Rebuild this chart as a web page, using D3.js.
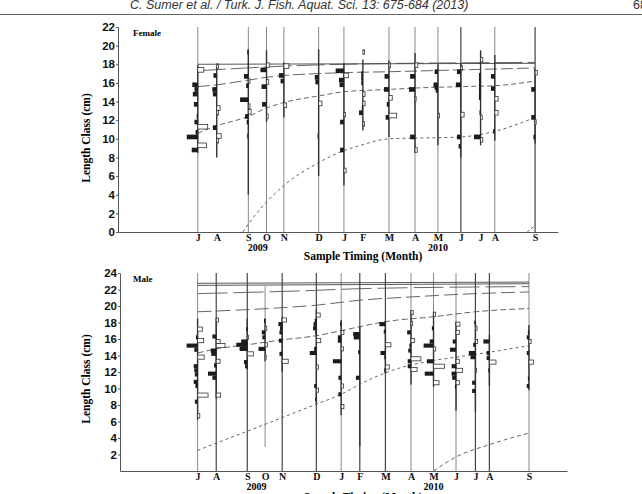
<!DOCTYPE html>
<html>
<head>
<meta charset="utf-8">
<script src="https://cdn.jsdelivr.net/npm/d3@7.9.0/dist/d3.min.js"></script>
<style>
  body { margin: 0; background: #fff; }
  svg { display: block; }
  .serif { font-family: "Liberation Serif", "Times New Roman", serif; font-weight: bold; }
</style>
</head>
<body>
<svg width="642" height="494"></svg>
<script>
// sample dates (one histogram per sample) and their month letters
const sampleDates = ['2009-07-10', '2009-08-03', '2009-09-12', '2009-10-05', '2009-10-27',
  '2009-12-10', '2010-01-11', '2010-02-04', '2010-03-09', '2010-04-11', '2010-05-10',
  '2010-06-08', '2010-07-03', '2010-07-21', '2010-09-10'];
const monthLabels = ['J', 'A', 'S', 'O', 'N', 'D', 'J', 'F', 'M', 'A', 'M', 'J', 'J', 'A', 'S'];
const yearLabels = [['2009-09-24', '2009'], ['2010-05-10', '2010']];

// restructured length frequencies: [length class (cm), score]; >0 black bar, <0 white bar
const femaleRanges = [[8.5, 17.9], [8.0, 17.9], [4.0, 19.6], [11.8, 19.5], [12.3, 18.2],
  [6.0, 19.6], [5.0, 18.1], [10.9, 18.5], [10.2, 18.4], [8.5, 19.2], [9.3, 18.0],
  [8.0, 18.1], [9.3, 19.5], [9.8, 19.0], [9.5, 17.5]];
const femalePeaks = [
  [[17.4, -0.55], [15.8, 0.5], [15.3, 0.3], [14.8, 0.45], [13.7, 0.35], [12.4, 0.1], [11.8, 0.3], [11.3, -0.9], [10.7, 0.2], [10.2, 1.0], [9.3, -0.8], [8.8, 0.55]],
  [[17.8, -0.15], [16.8, 0.3], [15.3, 0.4], [14.8, 0.35], [13.3, -0.3], [12.8, -0.15], [11.2, 0.35], [10.3, -0.4], [9.8, -0.15]],
  [[19.3, 0.1], [16.7, 0.4], [16.2, -0.15], [15.7, 0.2], [14.2, 0.75], [13.5, -0.15], [12.9, -0.25], [12.4, 0.3], [11.8, 0.15], [10.3, 0.1]],
  [[17.9, -0.25], [17.4, 0.55], [16.1, -0.2], [15.6, 0.45], [13.7, 0.4], [12.4, -0.15]],
  [[17.8, -0.45], [16.8, 0.45], [16.2, 0.3], [13.6, -0.25]],
  [[16.6, 0.35], [16.1, 0.3], [13.8, -0.3], [10.3, 0.1]],
  [[17.3, 0.75], [16.8, -0.4], [16.3, 0.45], [15.8, 0.4], [12.6, -0.15], [11.8, 0.35], [8.8, 0.35], [6.6, -0.2]],
  [[19.3, -0.15], [17.0, 0.15], [16.5, 0.15], [16.0, 0.15], [14.8, -0.2], [13.8, -0.2], [13.3, 0.1], [12.8, 0.35], [11.6, -0.15]],
  [[17.9, -0.15], [16.7, 0.4], [15.3, 0.45], [14.4, -0.3], [13.7, 0.2], [12.5, -0.7], [12.3, 0.3]],
  [[17.9, -0.25], [16.7, 0.45], [15.3, 0.55], [14.3, -0.1], [10.2, 0.45], [8.8, -0.2]],
  [[17.2, 0.3], [15.8, 0.4], [15.5, 0.3], [15.2, 0.2], [12.5, -0.15]],
  [[17.6, -0.15], [17.2, 0.35], [15.8, 0.45], [12.6, -0.3], [10.2, 0.35], [9.2, 0.2]],
  [[18.5, -0.2], [16.8, 0.15], [16.3, 0.15], [15.8, 0.15], [15.3, 0.15], [14.8, 0.15], [14.4, 0.15], [12.8, 0.1], [12.3, -0.15], [10.2, 0.6], [9.9, -0.2]],
  [[16.7, 0.35], [15.4, 0.35], [14.3, -0.3], [12.8, -0.3], [10.8, 0.15]],
  [[17.1, -0.2], [15.3, 0.35], [12.3, 0.35], [11.8, -0.1], [10.2, 0.15]]
];

const maleRanges = [[6.2, 18.5], [8.8, 18.5], [12.3, 18.5], [13.3, 18.5], [12.0, 18.7],
  [8.2, 19.6], [6.8, 18.3], [3.0, 17.5], [11.8, 18.2], [10.5, 19.4], [10.2, 19.3],
  [7.3, 18.1], [7.2, 18.1], [10.3, 16.5], [9.8, 17.7]];
const malePeaks = [
  [[17.2, -0.45], [16.2, 0.15], [15.8, -0.55], [15.2, 1.0], [14.7, 0.3], [13.8, -0.6], [12.7, 0.35], [12.2, 0.3], [11.7, 0.25], [10.8, 0.35], [10.3, 0.2], [9.2, -0.95], [8.4, 0.25], [6.7, -0.2]],
  [[18.3, -0.2], [16.3, 0.35], [15.7, -0.35], [15.2, -0.8], [14.6, 0.5], [14.2, 0.45], [13.3, -0.35], [12.8, 0.2], [11.8, 0.75], [11.3, 0.35], [9.2, -0.4]],
  [[17.2, 0.1], [16.2, -0.1], [15.7, 0.55], [15.3, 1.0], [14.8, 0.7], [14.2, -0.55], [13.2, 0.3], [12.7, 0.2]],
  [[18.2, 0.1], [17.3, -0.15], [16.8, 0.3], [16.2, 0.25], [15.3, -0.2], [14.8, 0.6], [13.8, -0.1]],
  [[18.3, -0.4], [17.8, 0.35], [17.3, 0.2], [16.8, 0.25], [15.8, 0.3], [14.2, 0.25], [13.3, -0.55]],
  [[18.9, -0.35], [18.2, 0.15], [17.8, 0.25], [17.3, 0.3], [16.8, 0.1], [15.8, -0.4], [14.8, 0.2], [14.3, 0.6], [12.6, -0.2], [10.3, 0.2], [9.8, -0.2], [8.7, 0.1]],
  [[17.8, 0.1], [16.8, -0.25], [16.2, 0.3], [15.8, 0.3], [14.8, -0.2], [13.3, 0.75], [11.3, 0.25], [10.3, -0.2], [9.3, 0.25], [7.8, -0.25]],
  [[16.6, 0.6], [16.2, 0.55], [14.4, 0.15], [11.3, 0.35]],
  [[17.8, 0.55], [16.9, 0.15], [15.3, -0.5], [14.3, 0.45], [13.8, 0.1], [12.6, -0.35], [12.2, 0.1]],
  [[19.2, -0.2], [17.9, -0.15], [16.8, 0.35], [15.8, -0.3], [15.2, 0.15], [14.6, 0.25], [13.6, -0.9], [13.3, 0.3], [12.7, 0.3], [12.3, -0.55]],
  [[19.0, -0.2], [17.3, 0.15], [15.7, 0.35], [15.2, 0.9], [14.8, -0.2], [13.3, 0.6], [12.7, -1.0], [11.8, 0.8], [10.7, -0.5]],
  [[17.8, -0.35], [16.8, -0.3], [15.7, 0.3], [14.7, 0.55], [13.3, -0.3], [12.7, 0.4], [12.2, -0.6], [11.8, 0.4], [11.3, 0.35], [10.7, -0.3], [10.2, 0.1]],
  [[18.0, 0.1], [17.3, -0.15], [15.7, -0.2], [15.3, 0.2], [14.3, 0.6], [13.8, 0.45], [12.2, -0.1], [10.7, 0.3], [9.7, 0.3]],
  [[15.7, 0.55], [14.3, 0.25], [13.7, 0.25], [13.2, -0.6], [12.2, 0.1]],
  [[16.8, 0.1], [16.2, 0.2], [15.7, -0.2], [14.3, 0.2], [13.2, -0.4], [11.2, 0.1], [10.3, 0.2]]
];

// growth curves (cohorts), bottom to top: [date, length cm]
const femaleCurves = [
  [['2010-08-31', 0], ['2010-09-10', 0.7]],
  [['2009-09-05', 0], ['2009-09-16', 1.3], ['2009-10-23', 4.7], ['2009-12-09', 7.4], ['2010-01-10', 8.7], ['2010-02-01', 9.3], ['2010-03-09', 10.0], ['2010-06-08', 10.2], ['2010-07-21', 10.8], ['2010-09-10', 12.3]],
  [['2009-07-10', 10.6], ['2009-08-03', 11.4], ['2009-09-12', 12.4], ['2009-10-05', 13.3], ['2009-10-27', 13.9], ['2009-12-10', 14.6], ['2010-01-11', 15.05], ['2010-03-09', 15.3], ['2010-04-11', 15.45], ['2010-06-08', 15.6], ['2010-07-21', 15.7], ['2010-09-10', 16.2]],
  [['2009-07-10', 15.6], ['2009-08-03', 15.8], ['2009-09-12', 16.3], ['2009-10-05', 16.6], ['2009-10-27', 16.8], ['2009-12-10', 17.0], ['2010-01-11', 17.1], ['2010-03-09', 17.2], ['2010-06-08', 17.4], ['2010-09-10', 17.6]],
  [['2009-07-10', 17.3], ['2009-10-27', 17.8], ['2010-01-11', 18.0], ['2010-09-10', 18.2]],
  [['2009-07-10', 18.0], ['2010-09-10', 18.1]]
];
const maleCurves = [
  [['2010-05-10', 0], ['2010-06-08', 1.7], ['2010-07-21', 3.2], ['2010-09-10', 4.6]],
  [['2009-07-10', 2.5], ['2009-12-10', 8.1], ['2010-01-11', 9.3], ['2010-02-04', 10.5], ['2010-03-09', 11.9], ['2010-05-10', 13.4], ['2010-06-08', 13.8], ['2010-07-21', 14.4], ['2010-09-10', 15.2]],
  [['2009-07-10', 14.3], ['2009-08-03', 14.8], ['2009-09-12', 15.3], ['2009-10-27', 15.9], ['2009-12-10', 16.4], ['2010-01-11', 17.0], ['2010-02-04', 17.5], ['2010-03-09', 18.1], ['2010-05-10', 18.7], ['2010-07-03', 19.3], ['2010-09-10', 19.7]],
  [['2009-07-10', 19.3], ['2009-10-27', 19.8], ['2009-12-10', 20.1], ['2010-02-04', 20.7], ['2010-04-11', 21.1], ['2010-07-03', 21.5], ['2010-09-10', 21.7]],
  [['2009-07-10', 21.5], ['2009-12-10', 21.9], ['2010-02-04', 22.1], ['2010-09-10', 22.35]],
  [['2009-07-10', 22.5], ['2009-10-27', 22.55], ['2010-09-10', 22.7]],
  [['2009-07-10', 22.75], ['2010-09-10', 22.9]]
];

const parse = d3.timeParse('%Y-%m-%d');
const svg = d3.select('svg');

// journal running header
svg.append('text')
  .attr('x', 130).attr('y', 9)
  .style('font', 'italic 12.5px "Liberation Sans", Arial, sans-serif')
  .attr('fill', '#333')
  .text('C. Sumer et al.  /  Turk. J. Fish. Aquat. Sci. 13: 675-684 (2013)');
svg.append('text')
  .attr('x', 633).attr('y', 9)
  .style('font', '12.5px "Liberation Sans", Arial, sans-serif')
  .attr('fill', '#333')
  .text('683');
svg.append('line')
  .attr('x1', 0).attr('x2', 642).attr('y1', 14.5).attr('y2', 14.5)
  .attr('stroke', '#666').attr('stroke-width', 1);

const panels = [
  {
    name: 'Female', peaks: femalePeaks, ranges: femaleRanges, curves: femaleCurves,
    xDomain: ['2009-03-31', '2010-10-09'], xRange: [118, 558],
    yMax: 22, yRange: [232, 27], ticks: d3.range(0, 23, 2),
    noLine: [1, 7, 12], dark: [9, 11, 13], short: {},
    dashes: ['3,2', '3,3', '5,3', '12,4', '28,5', null],
    yearY: 251, titleY: 260, labelY: 138
  },
  {
    name: 'Male', peaks: malePeaks, ranges: maleRanges, curves: maleCurves,
    xDomain: ['2009-04-01', '2010-10-29'], xRange: [120, 567],
    yMax: 24, yRange: [471, 273], ticks: d3.range(2, 25, 2),
    noLine: [], dark: [1, 2, 4, 5, 7, 8, 12, 13], short: { 3: [2.9, 22.4] },
    dashes: ['4,3', '3,3', '6,3', '14,5', '30,6', null, null],
    yearY: 490, titleY: 501, labelY: 379
  }
];

panels.forEach((p) => {
  const x = d3.scaleTime().domain(p.xDomain.map(parse)).range(p.xRange);
  const y = d3.scaleLinear().domain([0, p.yMax]).range(p.yRange);
  const w = d3.scaleLinear().domain([0, 1]).range([0, 11]);
  const g = svg.append('g');
  const dates = sampleDates.map(parse);

  // sample guide lines
  g.selectAll('line.sample')
    .data(dates)
    .join('line')
    .attr('class', 'sample')
    .filter((_, i) => !p.noLine.includes(i))
    .attr('x1', (d) => x(d)).attr('x2', (d) => x(d))
    .attr('y1', (_, i) => y(p.short[i] ? p.short[i][1] : p.yMax))
    .attr('y2', (_, i) => y(p.short[i] ? p.short[i][0] : 0))
    .attr('stroke', (_, i) => (p.dark.includes(i) ? '#444' : '#8a8a8a'))
    .attr('stroke-width', (_, i) => (p.dark.includes(i) ? 1.2 : 1));

  // growth curves
  const line = d3.line()
    .x((d) => x(parse(d[0])))
    .y((d) => y(d[1]))
    .curve(d3.curveMonotoneX);
  g.selectAll('path.curve')
    .data(p.curves)
    .join('path')
    .attr('class', 'curve')
    .attr('d', line)
    .attr('fill', 'none')
    .attr('stroke', (_, i) => (p.dashes[i] ? '#555' : '#444'))
    .attr('stroke-width', 0.9)
    .attr('stroke-dasharray', (_, i) => p.dashes[i]);

  // histograms
  dates.forEach((d, i) => {
    const cx = x(d);
    const [lo, hi] = p.ranges[i];
    g.append('line')
      .attr('x1', cx).attr('x2', cx)
      .attr('y1', y(hi)).attr('y2', y(lo))
      .attr('stroke', '#333').attr('stroke-width', 1.4);
    g.selectAll(null)
      .data(p.peaks[i])
      .join('rect')
      .attr('x', (b) => (b[1] > 0 ? cx - w(b[1]) : cx))
      .attr('width', (b) => w(Math.abs(b[1])))
      .attr('y', (b) => y(b[0] + 0.25))
      .attr('height', (b) => y(b[0] - 0.25) - y(b[0] + 0.25))
      .attr('fill', (b) => (b[1] > 0 ? '#1c1c1c' : '#fff'))
      .attr('stroke', (b) => (b[1] > 0 ? 'none' : '#333'))
      .attr('stroke-width', 0.8);
  });

  // axes
  const yAxis = g.append('g')
    .attr('transform', `translate(${p.xRange[0]},0)`)
    .call(d3.axisLeft(y).tickValues(p.ticks).tickSize(2).tickSizeOuter(0).tickPadding(1));
  yAxis.select('.domain').attr('stroke', '#555');
  yAxis.selectAll('.tick line').attr('stroke', '#555');
  yAxis.selectAll('text')
    .style('font', 'bold 11.5px "Liberation Sans", Arial, sans-serif')
    .attr('fill', '#111');

  const xAxis = g.append('g')
    .attr('transform', `translate(0,${y(0)})`)
    .call(d3.axisBottom(x).tickValues(dates).tickFormat((_, i) => monthLabels[i])
      .tickSize(0).tickPadding(1.5));
  xAxis.select('.domain').attr('stroke', '#555');
  xAxis.selectAll('text')
    .attr('class', 'serif')
    .style('font-size', '10px')
    .attr('fill', '#111');

  g.selectAll('text.year')
    .data(yearLabels)
    .join('text')
    .attr('class', 'year serif')
    .attr('x', (d) => x(parse(d[0])))
    .attr('y', p.yearY)
    .attr('text-anchor', 'middle')
    .style('font-size', '10px')
    .text((d) => d[1]);

  g.append('text')
    .attr('class', 'serif')
    .attr('x', 363).attr('y', p.titleY)
    .attr('text-anchor', 'middle')
    .style('font-size', '11.5px')
    .text('Sample Timing (Month)');

  g.append('text')
    .attr('class', 'serif')
    .attr('transform', `translate(90,${p.labelY}) rotate(-90)`)
    .attr('text-anchor', 'middle')
    .style('font-size', '11.5px')
    .text('Length Class (cm)');

  g.append('text')
    .attr('class', 'serif')
    .attr('x', 133).attr('y', y(p.yMax) + 9)
    .style('font-size', '9px')
    .text(p.name);
});
</script>
</body>
</html>
